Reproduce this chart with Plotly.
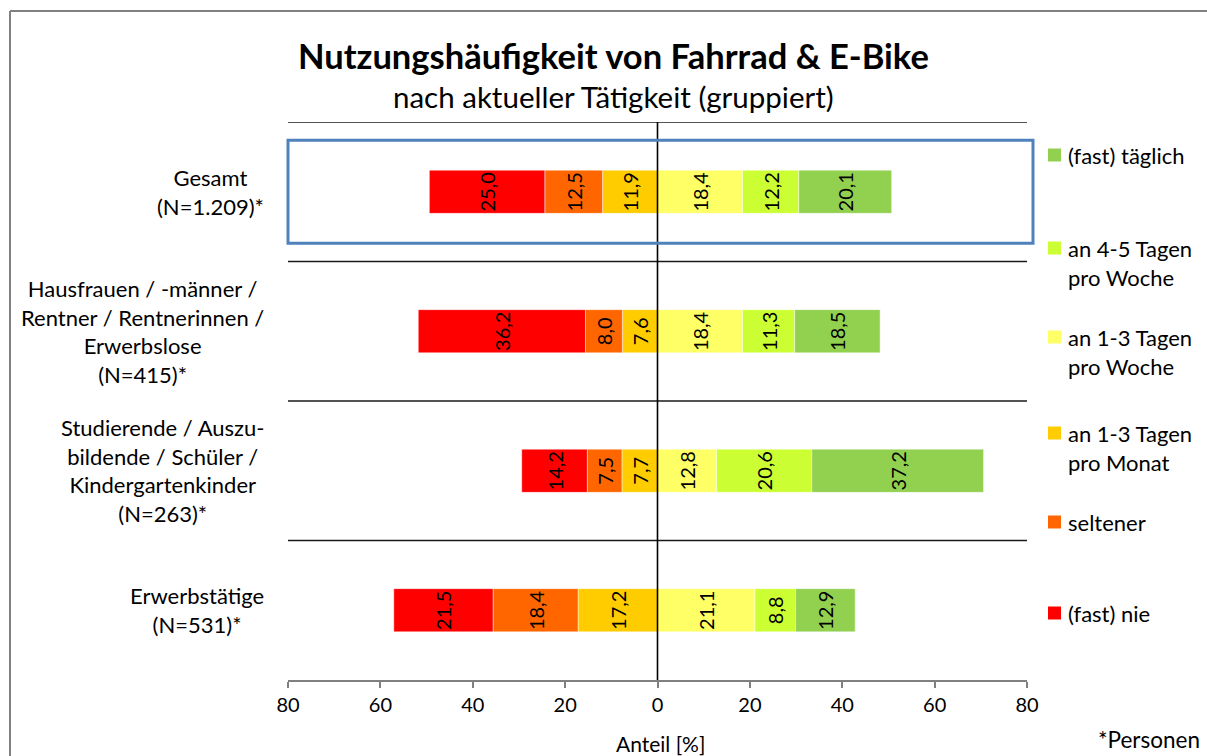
import plotly.graph_objects as go

# ---------------- data ----------------
categories = [
    "Gesamt<br>(N=1.209)*",
    "Hausfrauen / -männer /<br>Rentner / Rentnerinnen /<br>Erwerbslose<br>(N=415)*",
    "Studierende / Auszu-<br>bildende / Schüler /<br>Kindergartenkinder<br>(N=263)*",
    "Erwerbstätige<br>(N=531)*",
]
fast_nie = [25.0, 36.2, 14.2, 21.5]
seltener = [12.5, 8.0, 7.5, 18.4]
monat_1_3 = [11.9, 7.6, 7.7, 17.2]
woche_1_3 = [18.4, 18.4, 12.8, 21.1]
woche_4_5 = [12.2, 11.3, 20.6, 8.8]
taeglich = [20.1, 18.5, 37.2, 12.9]

tick_values = [-80, -60, -40, -20, 0, 20, 40, 60, 80]
tick_labels = ["80", "60", "40", "20", "0", "20", "40", "60", "80"]

legend_names = ["(fast) täglich", "an 4-5 Tagen<br>pro Woche", "an 1-3 Tagen<br>pro Woche",
                "an 1-3 Tagen<br>pro Monat", "seltener", "(fast) nie"]
colors = {
    "nie": "#FF0000",
    "selt": "#FF6600",
    "monat": "#FFCC00",
    "w13": "#FFFF66",
    "w45": "#CCFF33",
    "tgl": "#92D050",
}
legend_colors = [colors["tgl"], colors["w45"], colors["w13"], colors["monat"], colors["selt"], colors["nie"]]

FONT = "Lato, Carlito, Calibri, sans-serif"

# ---------------- layout geometry ----------------
W, H = 1207, 756
PLOT_L, PLOT_R, PLOT_T, PLOT_B = 288, 1027, 122, 680  # window pixels
L, T = PLOT_L, PLOT_T
R, B = W - PLOT_R, H - PLOT_B
PW, PH = PLOT_R - PLOT_L, PLOT_B - PLOT_T


def px_x(px):
    return (px - PLOT_L) / PW


def px_y(py):
    return (PLOT_B - py) / PH


ypos = list(range(len(categories)))


def fmt(v):
    return f"{v:.1f}".replace(".", ",")


fig = go.Figure()

series = [
    ("monat", monat_1_3, -1),
    ("selt", seltener, -1),
    ("nie", fast_nie, -1),
    ("w13", woche_1_3, 1),
    ("w45", woche_4_5, 1),
    ("tgl", taeglich, 1),
]
for key, vals, sign in series:
    fig.add_trace(go.Bar(
        y=ypos,
        x=[sign * v for v in vals],
        orientation="h",
        width=0.31,
        marker=dict(color=colors[key], line=dict(color="rgba(255,255,255,0.6)", width=0.8)),
        text=[fmt(v) for v in vals],
        textposition="inside",
        insidetextanchor="middle",
        textangle=-90,
        constraintext="none",
        textfont=dict(family=FONT, size=20, color="black"),
        showlegend=False,
        hoverinfo="skip",
    ))

shapes = []
# separator lines between groups (and top)
for b in [-0.5, 0.5, 1.5, 2.5]:
    shapes.append(dict(type="line", xref="paper", yref="y", x0=0, x1=1, y0=b, y1=b,
                       line=dict(color="#1a1a1a", width=1.6), layer="below"))
# zero line
shapes.append(dict(type="line", xref="x", yref="paper", x0=0, x1=0, y0=0, y1=1,
                   line=dict(color="black", width=1.6), layer="above"))
# highlight box around Gesamt
shapes.append(dict(type="rect", xref="paper", yref="y", x0=0, x1=px_x(1033), y0=-0.37, y1=0.37,
                   line=dict(color="#4F81BD", width=3), layer="above"))
# outer frame (left and top edges visible in the window)
shapes.append(dict(type="line", xref="paper", yref="paper", x0=px_x(10), x1=px_x(10),
                   y0=px_y(770), y1=px_y(11), line=dict(color="#808080", width=2)))
shapes.append(dict(type="line", xref="paper", yref="paper", x0=px_x(10), x1=px_x(1220),
                   y0=px_y(11), y1=px_y(11), line=dict(color="#808080", width=2)))

annotations = []
# category labels
for i, c in enumerate(categories):
    annotations.append(dict(text=c, xref="paper", yref="y", x=px_x(266), y=i, xanchor="right",
                            yanchor="middle", align="center", showarrow=False,
                            font=dict(family=FONT, size=22, color="black")))
# legend
leg_y = [155, 248, 337, 433, 522, 613]
for name, col, yy in zip(legend_names, legend_colors, leg_y):
    shapes.append(dict(type="rect", xref="paper", yref="paper", x0=px_x(1048), x1=px_x(1061),
                       y0=px_y(yy + 6.5), y1=px_y(yy - 6.5), fillcolor=col, line=dict(width=0)))
    annotations.append(dict(text=name, xref="paper", yref="paper", x=px_x(1066), y=px_y(yy - 15),
                            xanchor="left", yanchor="top", align="left", showarrow=False,
                            font=dict(family=FONT, size=22, color="black")))
# title & subtitle
annotations.append(dict(text="<b>Nutzungshäufigkeit von Fahrrad & E-Bike</b>", xref="paper", yref="paper",
                        x=px_x(613), y=px_y(55), xanchor="center", yanchor="middle", showarrow=False,
                        font=dict(family=FONT, size=34.5, color="black")))
annotations.append(dict(text="nach aktueller Tätigkeit (gruppiert)", xref="paper", yref="paper",
                        x=px_x(613), y=px_y(97), xanchor="center", yanchor="middle", showarrow=False,
                        font=dict(family=FONT, size=29.5, color="black")))
annotations.append(dict(text="Anteil [%]", xref="paper", yref="paper",
                        x=px_x(660), y=px_y(743), xanchor="center", yanchor="middle", showarrow=False,
                        font=dict(family=FONT, size=21, color="black")))
annotations.append(dict(text="*Personen", xref="paper", yref="paper",
                        x=px_x(1202), y=px_y(739), xanchor="right", yanchor="middle", showarrow=False,
                        font=dict(family=FONT, size=22.5, color="black")))

fig.update_layout(
    width=W, height=H,
    margin=dict(l=L, r=R, t=T, b=B),
    barmode="relative",
    plot_bgcolor="white",
    paper_bgcolor="white",
    font=dict(family=FONT, size=20, color="black"),
    shapes=shapes,
    annotations=annotations,
    showlegend=False,
)
fig.update_xaxes(
    range=[-80, 80],
    tickvals=tick_values,
    ticktext=tick_labels,
    ticks="outside",
    ticklen=6,
    tickwidth=2,
    tickcolor="#808080",
    showline=True,
    linecolor="#808080",
    linewidth=2,
    showgrid=False,
    zeroline=False,
    tickfont=dict(family=FONT, size=20, color="black"),
    fixedrange=True,
)
fig.update_yaxes(
    range=[3.5, -0.5],
    showticklabels=False,
    showgrid=False,
    zeroline=False,
    showline=False,
    fixedrange=True,
)

fig.write_html(
    "out.html",
    config={"displayModeBar": False},
    post_script=(
        "document.body.style.margin='0';"
        "document.body.style.overflow='hidden';"
        "document.documentElement.style.overflow='hidden';"
    ),
)
